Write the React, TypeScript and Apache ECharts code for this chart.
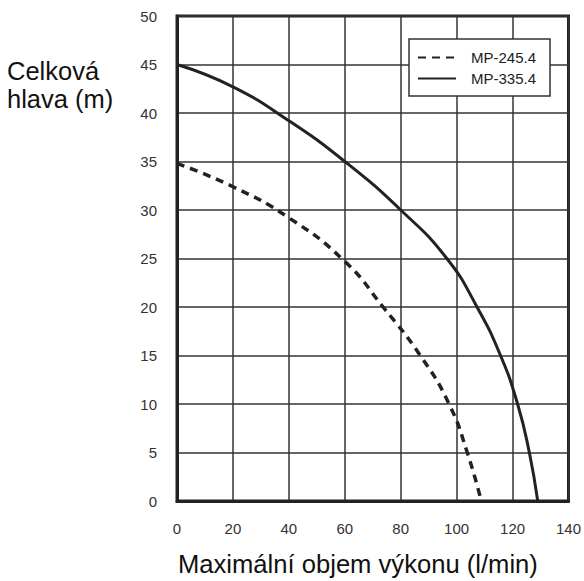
import React, { useEffect, useRef } from "react";
import * as echarts from "echarts";

const seriesNames = ["MP-245.4", "MP-335.4"];
const flowMP245 = [0, 20, 40, 60, 73.7, 87, 97.3, 103.8, 108.8];
const headMP245 = [34.8, 32.4, 29.2, 24.7, 20, 15, 10, 5, 0];
const flowMP335 = [0, 20, 40, 60, 80, 96.5, 107.3, 115.7, 121.8, 126, 129];
const headMP335 = [45, 42.7, 39.2, 35, 30, 25, 20, 15, 10, 5, 0];
const xTicks = { min: 0, max: 140, interval: 20 };
const yTicks = { min: 0, max: 50, interval: 5 };
const yTitle = "Celková\nhlava (m)";
const xTitle = "Maximální objem výkonu (l/min)";

const FONT = "Liberation Sans, Arial, sans-serif";

export default function App() {
  const ref = useRef<HTMLDivElement>(null);
  useEffect(() => {
    if (!ref.current) return;
    const chart = echarts.init(ref.current, null, { renderer: "svg" });
    const pair = (xs: number[], ys: number[]) => xs.map((x, i) => [x, ys[i]]);
    chart.setOption({
      animation: false,
      backgroundColor: "#fff",
      grid: {
        left: 177,
        right: 12,
        top: 16,
        bottom: 80,
        show: true,
        borderColor: "#222",
        borderWidth: 3,
        backgroundColor: "transparent",
      },
      legend: {
        left: 409,
        top: 39,
        orient: "vertical",
        data: seriesNames,
        itemWidth: 38,
        itemHeight: 14,
        itemGap: 6,
        padding: [11, 14, 10, 8],
        borderColor: "#333",
        borderWidth: 1.5,
        backgroundColor: "#fff",
        itemStyle: { opacity: 0 },
        textStyle: {
          fontFamily: FONT,
          fontSize: 15,
          color: "#222",
          padding: [0, 0, 0, 10],
        },
      },
      xAxis: {
        type: "value",
        min: xTicks.min,
        max: xTicks.max,
        interval: xTicks.interval,
        axisLine: { show: true, lineStyle: { color: "#222", width: 3 } },
        axisTick: { show: false },
        axisLabel: { fontFamily: FONT, fontSize: 15, color: "#333", margin: 20 },
        splitLine: { show: true, lineStyle: { color: "#333", width: 1.5 } },
      },
      yAxis: {
        type: "value",
        min: yTicks.min,
        max: yTicks.max,
        interval: yTicks.interval,
        axisLine: { show: true, lineStyle: { color: "#222", width: 3 } },
        axisTick: { show: false },
        axisLabel: { fontFamily: FONT, fontSize: 15, color: "#333", margin: 20 },
        splitLine: { show: true, lineStyle: { color: "#333", width: 1.5 } },
      },
      graphic: [
        {
          type: "text",
          left: 7,
          top: 57,
          style: {
            text: yTitle,
            fontFamily: FONT,
            fontSize: 25.5,
            lineHeight: 28,
            fill: "#111",
          },
        },
        {
          type: "text",
          left: 178,
          top: 551,
          style: {
            text: xTitle,
            fontFamily: FONT,
            fontSize: 25.6,
            lineHeight: 26,
            fill: "#111",
          },
        },
      ],
      series: [
        {
          name: seriesNames[0],
          type: "line",
          smooth: 0.5,
          symbol: "none",
          data: pair(flowMP245, headMP245),
          lineStyle: { color: "#222", width: 3.5, type: [8, 6] },
          itemStyle: { color: "#222" },
        },
        {
          name: seriesNames[1],
          type: "line",
          smooth: 0.5,
          symbol: "none",
          data: pair(flowMP335, headMP335),
          lineStyle: { color: "#222", width: 3 },
          itemStyle: { color: "#222" },
        },
      ],
    });
    return () => chart.dispose();
  }, []);
  return (
    <div
      ref={ref}
      style={{ position: "fixed", left: 0, top: 0, width: 584, height: 581 }}
    />
  );
}
